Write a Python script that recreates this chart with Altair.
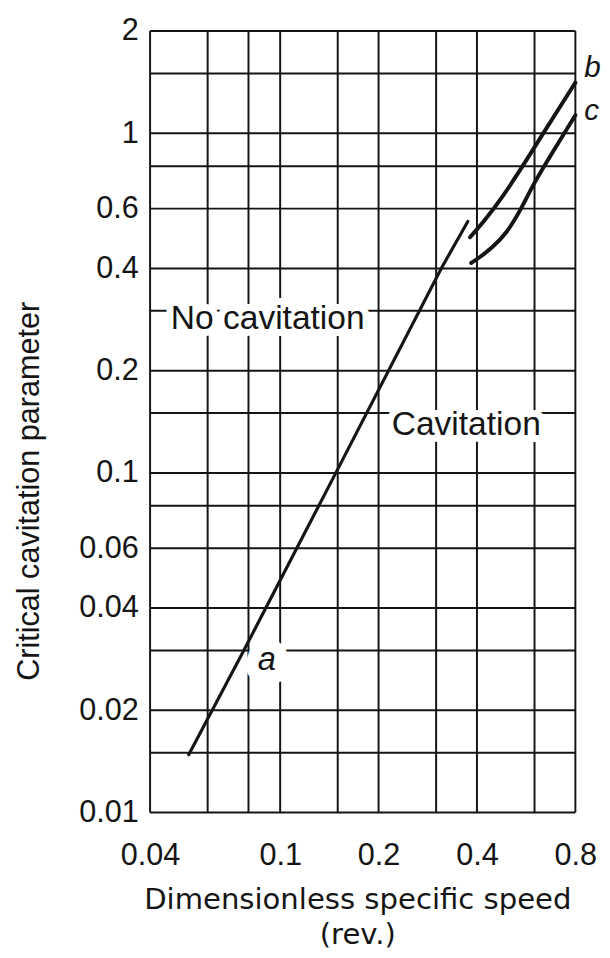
import altair as alt
import pandas as pd

# ---- data ----
x_grid = [0.04, 0.06, 0.08, 0.1, 0.15, 0.2, 0.3, 0.4, 0.6, 0.8]
y_grid = [0.01, 0.015, 0.02, 0.03, 0.04, 0.06, 0.08, 0.1, 0.15, 0.2, 0.3, 0.4, 0.6, 0.8, 1, 1.5, 2]
x_ticks = [0.04, 0.1, 0.2, 0.4, 0.8]
y_ticks = [0.01, 0.02, 0.04, 0.06, 0.1, 0.2, 0.4, 0.6, 1, 2]

a_x = [0.0525, 0.0774, 0.148, 0.311, 0.375]
a_y = [0.0148, 0.03, 0.1, 0.4, 0.55]

b_x = [0.381, 0.420, 0.473, 0.562, 0.665, 0.8]
b_y = [0.494, 0.550, 0.637, 0.821, 1.066, 1.41]

c_x = [0.384, 0.405, 0.444, 0.493, 0.547, 0.595, 0.684, 0.8]
c_y = [0.415, 0.429, 0.459, 0.507, 0.60, 0.709, 0.885, 1.13]

lab_text = ["No cavitation", "Cavitation"]
lab_x = [0.0916, 0.371]
lab_y = [0.283, 0.138]

it_text = ["a", "b", "c"]
it_x = [0.091, 0.8, 0.8]
it_y = [0.0281, 1.56, 1.16]

INK = "#151515"
FONT = "Liberation Sans"

xs = alt.Scale(type="log", domain=[0.04, 0.8], nice=False)
ys = alt.Scale(type="log", domain=[0.01, 2], nice=False)

x_axis = alt.Axis(values=x_ticks, format=".2~f", grid=False, domain=False, ticks=False, tickSize=0,
                  labelFont=FONT, labelFontSize=31, labelColor=INK, labelPadding=53,
                  labelBaseline="alphabetic", labelFlush=False, labelOverlap=False, labelBound=False,
                  title=["Dimensionless specific speed", "(rev.)"], titleFont="DejaVu Sans",
                  titleFontSize=29.5, titleFontWeight="normal", titleColor=INK, titleLineHeight=36,
                  titleX=210, titleY=97, titleBaseline="alphabetic", titleAlign="center")
y_axis = alt.Axis(values=y_ticks, format=".2~f", grid=False, domain=False, ticks=False, tickSize=0,
                  labelFont=FONT, labelFontSize=31, labelColor=INK, labelPadding=12,
                  labelBaseline="middle", labelFlush=False, labelOverlap=False, labelBound=False,
                  title="Critical cavitation parameter", titleFont=FONT, titleFontSize=31,
                  titleFontWeight="normal", titleColor=INK, titleAngle=270, titleX=-122, titleY=466,
                  titleAlign="center", titleBaseline="middle")

def X(field="x"):
    return alt.X(f"{field}:Q", scale=xs, axis=x_axis)

def Y(field="y"):
    return alt.Y(f"{field}:Q", scale=ys, axis=y_axis)

vgrid = alt.Chart(pd.DataFrame({"x": x_grid})).mark_rule(color=INK, strokeWidth=2).encode(x=X())
hgrid = alt.Chart(pd.DataFrame({"y": y_grid})).mark_rule(color=INK, strokeWidth=2).encode(y=Y())

labels_df = pd.DataFrame({"t": lab_text, "x": lab_x, "y": lab_y})
ital_df = pd.DataFrame({"t": it_text, "x": it_x, "y": it_y})

halo = alt.Chart(labels_df).mark_text(font=FONT, fontSize=34, color="white", stroke="white",
                                      strokeWidth=14, align="center", baseline="middle").encode(
    x=X(), y=Y(), text="t:N")
halo_a = alt.Chart(ital_df.iloc[:1]).mark_text(font=FONT, fontSize=33, fontStyle="italic", color="white",
                                               stroke="white", strokeWidth=26, align="center",
                                               baseline="middle").encode(x=X(), y=Y(), text="t:N")

def line(xv, yv, w, interp):
    df = pd.DataFrame({"x": xv, "y": yv, "o": list(range(len(xv)))})
    return alt.Chart(df).mark_line(color=INK, strokeWidth=w, strokeCap="round",
                                   strokeJoin="round", interpolate=interp).encode(
        x=X(), y=Y(), order="o:Q")

line_a = line(a_x, a_y, 3.2, "linear")
line_b = line(b_x, b_y, 4, "basis")
line_c = line(c_x, c_y, 4, "basis")

text = alt.Chart(labels_df).mark_text(font=FONT, fontSize=34, color=INK, align="center",
                                      baseline="middle").encode(x=X(), y=Y(), text="t:N")
ital_a = alt.Chart(ital_df.iloc[:1]).mark_text(font=FONT, fontSize=33, fontStyle="italic", color=INK,
                                               align="center", baseline="middle").encode(
    x=X(), y=Y(), text="t:N")
ital_bc = alt.Chart(ital_df.iloc[1:]).mark_text(font=FONT, fontSize=30, fontStyle="italic", color=INK,
                                                align="left", baseline="middle", dx=9).encode(
    x=X(), y=Y(), text="t:N")

chart = alt.layer(vgrid, hgrid, halo, halo_a, line_a, line_b, line_c, text, ital_a, ital_bc).properties(
    width=431, height=792,
    padding={"left": 144, "top": 17, "right": 27, "bottom": 133},
    autosize=alt.AutoSizeParams(type="none"),
    background="white",
).configure_view(stroke=None)

chart.save("out.html", embed_options={"renderer": "svg", "actions": False})
